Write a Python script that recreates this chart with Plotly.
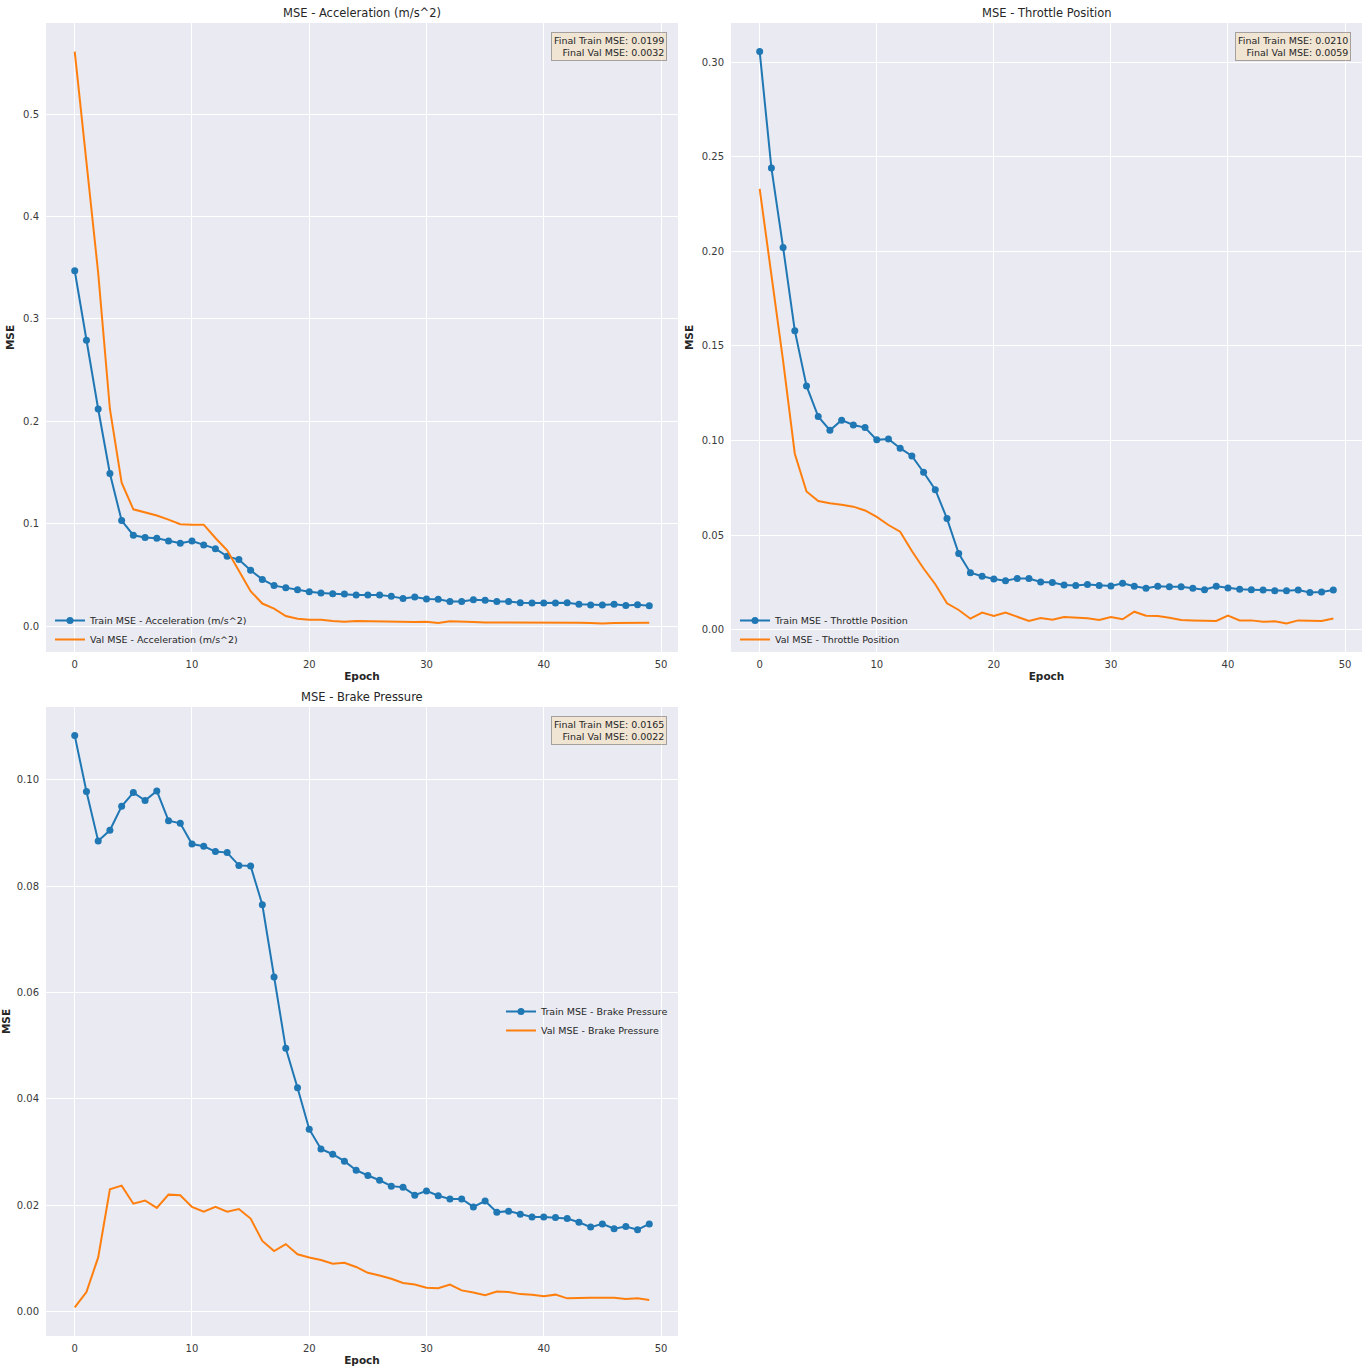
import plotly.graph_objects as go

epochs = list(range(50))

# Acceleration (m/s^2)
acc_train = [0.347, 0.279, 0.212, 0.149, 0.103, 0.0887, 0.0864, 0.0858, 0.0831, 0.0809,
             0.0831, 0.0792, 0.0756, 0.0681, 0.0649, 0.0545, 0.0456, 0.0395, 0.0375, 0.0355,
             0.0336, 0.0323, 0.0316, 0.0313, 0.0303, 0.0303, 0.0303, 0.0290, 0.0270, 0.0284,
             0.0264, 0.0261, 0.0241, 0.0241, 0.0258, 0.0251, 0.0241, 0.0241, 0.0228, 0.0225,
             0.0225, 0.0225, 0.0228, 0.0212, 0.0205, 0.0205, 0.0212, 0.0202, 0.0209, 0.0199]
acc_val = [0.561, 0.452, 0.345, 0.212, 0.140, 0.114, 0.111, 0.108, 0.104, 0.0995,
           0.0990, 0.0990, 0.0860, 0.0740, 0.0540, 0.0340, 0.0220, 0.0170, 0.0098, 0.0072,
           0.0062, 0.0062, 0.0049, 0.0042, 0.0049, 0.0046, 0.0042, 0.0039, 0.0039, 0.0039,
           0.0042, 0.0030, 0.0046, 0.0039, 0.0039, 0.0036, 0.0036, 0.0033, 0.0033, 0.0036,
           0.0039, 0.0033, 0.0033, 0.0033, 0.0030, 0.0026, 0.0030, 0.0030, 0.0030, 0.0032]

# Throttle Position
thr_train = [0.3055, 0.244, 0.202, 0.158, 0.1288, 0.1126, 0.1054, 0.1107, 0.1082, 0.1068,
             0.1003, 0.1008, 0.0959, 0.0918, 0.0832, 0.0740, 0.0587, 0.0402, 0.0301, 0.0282,
             0.0268, 0.0259, 0.0271, 0.0270, 0.0252, 0.0249, 0.0236, 0.0234, 0.0238, 0.0234,
             0.0231, 0.0245, 0.0229, 0.0219, 0.0229, 0.0227, 0.0227, 0.0219, 0.0211, 0.0229,
             0.0220, 0.0213, 0.0211, 0.0210, 0.0206, 0.0206, 0.0210, 0.0197, 0.0199, 0.0210]
thr_val = [0.233, 0.188, 0.142, 0.093, 0.073, 0.068, 0.0668, 0.066, 0.065, 0.063,
           0.0596, 0.0553, 0.0518, 0.0416, 0.0323, 0.0240, 0.0139, 0.0104, 0.0058, 0.0090,
           0.0072, 0.0090, 0.0070, 0.0046, 0.0062, 0.0053, 0.0067, 0.0062, 0.0060, 0.0051,
           0.0067, 0.0055, 0.0095, 0.0074, 0.0072, 0.0063, 0.0051, 0.0049, 0.0048, 0.0046,
           0.0074, 0.0049, 0.0049, 0.0042, 0.0044, 0.0033, 0.0049, 0.0048, 0.0046, 0.0059]

# Brake Pressure
brk_train = [0.1083, 0.0978, 0.0885, 0.0905, 0.0950, 0.0976, 0.0961, 0.0979, 0.0923, 0.0918,
             0.0879, 0.0875, 0.0865, 0.0863, 0.0839, 0.0838, 0.0765, 0.0629, 0.0495, 0.0421,
             0.0343, 0.0306, 0.0296, 0.0283, 0.0266, 0.0256, 0.0247, 0.0236, 0.0234, 0.0219,
             0.0227, 0.0218, 0.0212, 0.0212, 0.0197, 0.0208, 0.0187, 0.0189, 0.0183, 0.0178,
             0.0178, 0.0177, 0.0175, 0.0168, 0.0159, 0.0165, 0.0156, 0.0160, 0.0154, 0.0165]
brk_val = [0.0008, 0.0037, 0.0102, 0.0230, 0.0237, 0.0203, 0.0209, 0.0195, 0.0220, 0.0219,
           0.0197, 0.0188, 0.0197, 0.0188, 0.0193, 0.0175, 0.0133, 0.0114, 0.0127, 0.0108,
           0.0102, 0.0097, 0.0090, 0.0092, 0.0084, 0.0073, 0.0068, 0.0062, 0.0054, 0.0051,
           0.0045, 0.0044, 0.0051, 0.0040, 0.0036, 0.0031, 0.0038, 0.0037, 0.0033, 0.0032,
           0.0029, 0.0032, 0.0025, 0.0026, 0.0026, 0.0026, 0.0026, 0.0024, 0.0025, 0.0022]

targets = ["Acceleration (m/s^2)", "Throttle Position", "Brake Pressure"]
train_series = [acc_train, thr_train, brk_train]
val_series = [acc_val, thr_val, brk_val]
y_formats = [".1f", ".2f", ".2f"]
y_dticks = [0.1, 0.05, 0.02]

BLUE = "#1f77b4"
ORANGE = "#ff7f0e"
FONT = "DejaVu Sans"
W = H = 1369

# panel rectangles in pixels: (left, right, top, bottom)
panels = [(46, 678, 23, 652), (731, 1362, 23, 652), (46, 678, 707, 1336)]

fig = go.Figure()
layout = dict(
    width=W, height=H,
    margin=dict(l=0, r=0, t=0, b=0),
    paper_bgcolor="white",
    plot_bgcolor="#EAEAF2",
    font=dict(family=FONT, size=10, color="#262626"),
    showlegend=True,
    annotations=[],
)

def margin_range(values, frac=0.05):
    lo, hi = min(values), max(values)
    pad = (hi - lo) * frac
    return [lo - pad, hi + pad]

legend_pos = [
    dict(x=50 / W, y=1 - 654 / H, xanchor="left", yanchor="bottom"),
    dict(x=735 / W, y=1 - 654 / H, xanchor="left", yanchor="bottom"),
    dict(x=674 / W, y=1 - 1021 / H, xanchor="right", yanchor="middle"),
]

for i, (name, tr, va) in enumerate(zip(targets, train_series, val_series)):
    k = "" if i == 0 else str(i + 1)
    leg = "legend" if i == 0 else f"legend{i + 1}"
    left, right, top, bottom = panels[i]
    fig.add_trace(go.Scatter(
        x=epochs, y=tr, mode="lines+markers", name=f"Train MSE - {name}",
        line=dict(color=BLUE, width=2), marker=dict(color=BLUE, size=7),
        xaxis=f"x{k}", yaxis=f"y{k}", legend=leg,
    ))
    fig.add_trace(go.Scatter(
        x=epochs, y=va, mode="lines", name=f"Val MSE - {name}",
        line=dict(color=ORANGE, width=2),
        xaxis=f"x{k}", yaxis=f"y{k}", legend=leg,
    ))
    layout[f"xaxis{k}"] = dict(
        domain=[left / W, right / W], anchor=f"y{k}",
        range=margin_range(epochs), dtick=10, tick0=0,
        showgrid=True, gridcolor="white", gridwidth=1, zeroline=False,
        showline=False, ticks="outside", ticklen=3, tickcolor="rgba(0,0,0,0)",
        tickfont=dict(size=10, color="#3a3a3a"),
        title=dict(text="<b>Epoch</b>", font=dict(size=10.5, color="#262626"), standoff=3),
    )
    layout[f"yaxis{k}"] = dict(
        domain=[1 - bottom / H, 1 - top / H], anchor=f"x{k}",
        range=margin_range(tr + va), dtick=y_dticks[i], tick0=0,
        tickformat=y_formats[i],
        showgrid=True, gridcolor="white", gridwidth=1, zeroline=False,
        showline=False, ticks="outside", ticklen=4, tickcolor="rgba(0,0,0,0)",
        tickfont=dict(size=10, color="#3a3a3a"),
        title=dict(text="<b>MSE</b>", font=dict(size=10.5, color="#262626"), standoff=6),
    )
    layout[leg] = dict(
        **legend_pos[i], bgcolor="rgba(0,0,0,0)", borderwidth=0,
        font=dict(size=9.5, color="#262626"), itemwidth=30, tracegroupgap=0,
    )
    # panel title
    layout["annotations"].append(dict(
        text=f"MSE - {name}", xref="paper", yref="paper",
        x=(left + right) / 2 / W, y=1 - (top - 1) / H,
        xanchor="center", yanchor="bottom", showarrow=False,
        font=dict(size=11.5, color="#262626"),
    ))
    # final-metric box
    layout["annotations"].append(dict(
        text=f"Final Train MSE: {tr[-1]:.4f}<br>Final Val MSE: {va[-1]:.4f}",
        xref=f"x{k} domain", yref=f"y{k} domain", x=0.983, y=0.985,
        xanchor="right", yanchor="top", align="right", showarrow=False,
        font=dict(size=9.5, color="#262626"),
        bgcolor="rgba(245,222,179,0.5)", bordercolor="rgba(0,0,0,0.3)",
        borderwidth=1, borderpad=2,
    ))

fig.update_layout(**layout)
fig.write_html("out.html")
